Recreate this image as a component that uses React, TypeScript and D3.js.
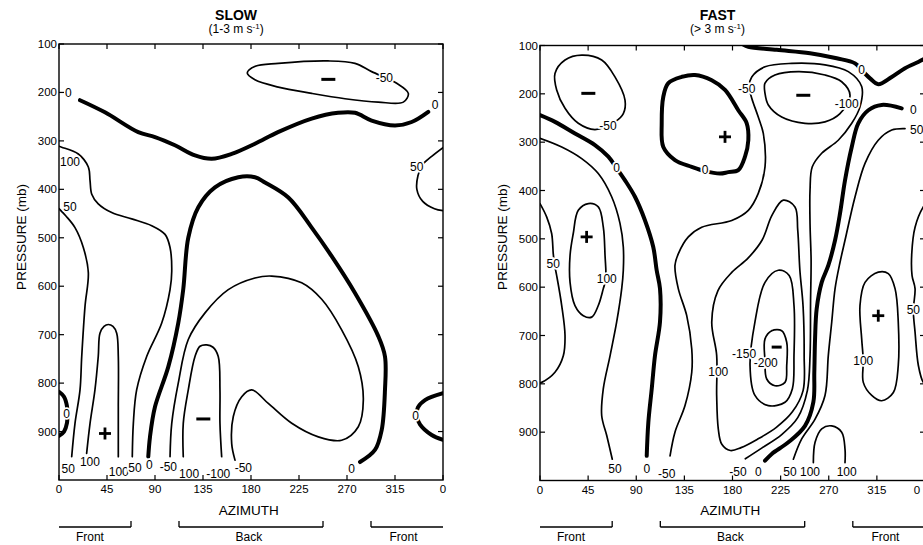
import React from 'react';
import * as d3 from 'd3';

type Pt = [number, number];
type Lbl = [number, number, string];
type Mk = [number, number, string];

// ---------- shared axis / annotation values ----------
const AZ_TICKS = [0, 45, 90, 135, 180, 225, 270, 315, 360];
const AZ_TICK_LABELS = ['0', '45', '90', '135', '180', '225', '270', '315', '0'];
const P_TICKS = [100, 200, 300, 400, 500, 600, 700, 800, 900];
const P_TICK_LABELS = ['100', '200', '300', '400', '500', '600', '700', '800', '900'];
const SECTOR_NAMES = ['Front', 'Back', 'Front'];
const SECTOR_FROM = [0, 112.5, 292.5];
const SECTOR_TO = [67.5, 247.5, 360];
const SECTOR_LABEL_AZ = [29, 178, 323];
const SECTOR_TICK_LEFT = [false, true, true];
const SECTOR_TICK_RIGHT = [true, true, false];

// ---------- SLOW panel (azimuth deg, pressure mb) ----------
const slowZeroTop: Pt[] = [[19.7, 216], [43.1, 241], [74.3, 282], [90, 292], [108.7, 309], [127.5, 330], [143.2, 337], [161.9, 327], [183.7, 306], [205.3, 282], [236.9, 254], [261.6, 242], [277.5, 242], [293.1, 258], [315, 268], [330.6, 261], [346.2, 240]];
const slowMinus50Top: Pt[] = [[176.5, 160], [184, 146], [205.6, 140], [252.2, 135], [277.5, 140], [293.1, 157], [316.6, 181], [327.5, 202], [322.8, 220], [299.3, 220], [268.1, 213], [236.9, 202], [205.6, 189], [183.7, 174]];
const slowZeroLoop: Pt[] = [[83.7, 952], [85.3, 911], [90, 849], [102.5, 766], [111.8, 676], [116.5, 606], [121.2, 500], [130.6, 437], [146.2, 396], [168.1, 375], [183.7, 375], [193.1, 386], [215, 417], [236.9, 479], [255.6, 538], [277.5, 614], [299.3, 703], [305.6, 745], [305.6, 814], [302.5, 897], [296.2, 938], [282.2, 963]];
const slowMinus50Loop: Pt[] = [[104.1, 952], [105.7, 883], [111.8, 800], [121.2, 710], [136.9, 655], [158.7, 607], [183.7, 583], [199.4, 579], [227.5, 593], [246.3, 627], [265, 690], [280.6, 766], [285.3, 835], [280.6, 890], [265, 918], [243.1, 911], [218.2, 883], [196.2, 842], [180.7, 814], [171.3, 828], [163.4, 869], [161.9, 925], [165, 959]];
const slow100Left: Pt[] = [[0, 311], [2.5, 313], [18.1, 327], [27.5, 354], [29.1, 382], [30.7, 410], [36.8, 430], [49.4, 448], [68.2, 461], [86.9, 475], [99.4, 493], [104.1, 520], [105.7, 569], [104.1, 607], [96.3, 676], [82.2, 745], [72.8, 814], [69.7, 883], [68.7, 952]];
const slow50Left: Pt[] = [[0, 440], [6.5, 455], [15, 479], [22.8, 520], [27.5, 572], [24.4, 641], [21.3, 745], [19.7, 814], [15, 883], [11.9, 952]];
const slow100Tongue: Pt[] = [[25.9, 945], [29.1, 883], [33.7, 814], [36.8, 745], [38.4, 697], [42.2, 683], [46.2, 679], [50.6, 683], [54.1, 697], [55.6, 745], [55.6, 849], [55.6, 952]];
const slowMinus100Tongue: Pt[] = [[116.5, 952], [116.5, 883], [121.2, 814], [127.5, 745], [132.2, 724], [138.5, 721], [144.4, 726], [149.3, 745], [150.9, 814], [150.9, 883], [152.5, 952]];
const slowZeroLeftArc: Pt[] = [[0, 818], [4.7, 828], [7.5, 848], [7.8, 865], [7.5, 882], [4.7, 900], [0, 909]];
const slowZeroRightArc: Pt[] = [[360, 821], [343.1, 835], [336.5, 850], [335.5, 868], [338.4, 885], [349.4, 907], [360, 917]];
const slow50Right: Pt[] = [[360, 314], [349.4, 332], [340.5, 350], [336.5, 372], [335.5, 400], [341, 425], [352, 440], [360, 444]];

const slowLabels: Lbl[] = [
  [8.7, 202, '0'], [352.5, 226, '0'], [305, 170, '-50'], [10.3, 344, '100'], [10.3, 437, '50'],
  [335.3, 354, '50'], [7.2, 863, '0'], [334.4, 868, '0'], [8.7, 977, '50'], [29, 963, '100'],
  [56, 983, '100'], [71.2, 975, '50'], [84.7, 970, '0'], [102.5, 973, '-50'], [122, 988, '100'],
  [149.3, 988, '-100'], [172.8, 975, '-50'], [274.4, 977, '0'],
];
const slowMarkers: Mk[] = [[43.1, 904, '+'], [135.3, 874, '-'], [252.5, 173, '-']];

// ---------- FAST panel ----------
const fastMinus50TopLeft: Pt[] = [[14, 158], [23.4, 130], [39, 120], [57.7, 130], [70.1, 165], [79.5, 213], [77.9, 241], [70.1, 258], [51.4, 274], [35.8, 261], [23.4, 230], [15.6, 192]];
const fastZeroLeft: Pt[] = [[0, 244], [14, 258], [32.7, 282], [51.4, 306], [63.9, 330], [71.7, 354], [79.5, 379], [88.8, 413], [98.2, 462], [105.9, 517], [109.1, 565], [112.2, 603], [112.2, 672], [107.5, 742], [104.5, 810], [101.3, 880], [99.8, 949]];
const fast50Left: Pt[] = [[0, 292], [20.3, 310], [39, 334], [54.5, 365], [67, 413], [74.8, 468], [77.9, 517], [77.9, 565], [76.4, 603], [71.7, 672], [65.5, 742], [59.2, 810], [57.7, 866], [62.4, 907], [67.6, 956]];
const fast100Plus: Pt[] = [[28.1, 590], [28.1, 534], [31.1, 489], [35.8, 441], [45.2, 427], [54.5, 434], [59.2, 476], [60.8, 534], [61.5, 583], [59.2, 603], [54.5, 638], [48.3, 662], [40.5, 659], [32.7, 638]];
const fast50EdgeLeft: Pt[] = [[0, 427], [6.3, 455], [10.9, 489], [12.4, 531], [13.5, 552], [15.6, 576], [20.3, 638], [23.4, 700], [21.8, 742], [14, 776], [1.6, 797], [0, 798]];
const fastZeroLoop: Pt[] = [[120, 178], [132.5, 165], [144.9, 161], [160.6, 172], [173, 192], [185.4, 234], [193.3, 261], [194.8, 296], [191.7, 330], [185.4, 358], [176.1, 362], [168.3, 365], [154.3, 360], [141.9, 351], [126.2, 337], [115.3, 310], [113.8, 261], [115.3, 206]];
const fastMinus50: Pt[] = [[121.6, 949], [126.2, 900], [135.6, 845], [141.9, 776], [141.9, 728], [137.2, 659], [129.3, 603], [126.2, 555], [129.3, 531], [138.7, 496], [151.2, 476], [179.3, 462], [194.8, 441], [204.1, 406], [210.4, 351], [208.8, 282], [204.1, 248], [198, 209], [195.5, 185], [198, 165], [210.4, 144], [235.4, 137], [266.5, 140], [288.3, 154], [300.8, 185], [299.2, 227], [291.5, 261], [278.9, 296], [263.4, 323], [254.6, 351], [252.5, 399], [252.5, 469], [253.5, 545], [253, 628], [252.5, 742], [250, 814], [241, 870], [226, 905], [208, 932], [192, 955]];
const fastMinus100Loop: Pt[] = [[227.5, 420], [238.4, 434], [241, 482], [243, 565], [246, 640], [247, 741], [246, 814], [236, 858], [221, 890], [203, 915], [188, 932], [178, 938], [170, 925], [166.7, 893], [165.2, 824], [165.2, 741], [160.6, 672], [166.4, 607], [179.5, 569], [194.5, 540], [207.6, 503], [217, 451]];
const fastMinus150: Pt[] = [[201, 672], [210.4, 590], [222.8, 565], [233, 576], [237.5, 638], [237.5, 741], [236, 810], [229.1, 838], [213.5, 845], [201, 824], [196.4, 762]];
const fastMinus200: Pt[] = [[210.4, 707], [216.7, 690], [226, 690], [230.7, 714], [230.7, 762], [229.1, 797], [219.7, 804], [212, 790], [210.4, 752]];
const fastMinus100Top: Pt[] = [[210.4, 178], [219.7, 161], [241.5, 154], [266.5, 161], [282.1, 175], [289.9, 203], [280.5, 241], [266.5, 258], [247.8, 261], [226, 248], [213.5, 223], [210.4, 199]];
const fastZeroTop: Pt[] = [[190, 98], [194.8, 102.5], [221.3, 109], [252.5, 116], [277.4, 126.5], [294.6, 137], [300.8, 151], [308.6, 168], [316.3, 180], [328.9, 165], [341.3, 147], [353.7, 134], [360, 127]];
const fastZeroRight: Pt[] = [[338.2, 230], [319.5, 223], [307, 234], [297.6, 261], [291.5, 310], [285.2, 379], [280.5, 448], [275.9, 503], [269.6, 555], [263.4, 590], [258.7, 645], [257.2, 707], [256.5, 776], [255.6, 838], [247.8, 887], [232.2, 921], [216.7, 945], [210.4, 959]];
const fast50Right: Pt[] = [[236.9, 956], [244.7, 914], [257.2, 873], [266.5, 824], [269.6, 741], [272.8, 672], [275.9, 603], [280.5, 549], [285.2, 503], [294.6, 413], [303.9, 344], [316.3, 296], [328.9, 275], [341.3, 272]];
const fast100Bump: Pt[] = [[255.6, 963], [257.2, 921], [263.4, 893], [272.8, 887], [282.1, 900], [285.2, 935], [285.2, 963]];
const fast100Plus2: Pt[] = [[316.3, 569], [303.9, 590], [299.2, 638], [300.8, 707], [302.3, 752], [302.3, 797], [310.2, 824], [319.5, 835], [330.4, 818], [335, 762], [335, 672], [332, 603], [325.7, 572]];
const fast50EdgeRight: Pt[] = [[360, 430], [358.4, 434], [350.7, 476], [347.6, 531], [347.9, 576], [350.7, 603], [349.1, 648], [350.7, 693], [353.8, 762], [358.4, 797], [360, 800]];

const fastLabels: Lbl[] = [
  [63.6, 267, '-50'], [71.7, 354, '0'], [99.8, 977, '0'], [70.1, 976, '50'], [62.4, 584, '100'],
  [12.4, 552, '50'], [154.3, 358, '0'], [193.3, 189, '-50'], [118.5, 987, '-50'], [166.7, 775, '100'],
  [190.8, 738, '-150'], [211.1, 756, '-200'], [286.8, 220, '-100'], [300.8, 151, '0'], [349.1, 234, '0'],
  [204.1, 983, '0'], [352.2, 275, '50'], [233.8, 983, '50'], [252.5, 983, '100'], [286.8, 983, '100'],
  [302.3, 752, '100'], [349.1, 648, '50'], [185.1, 982, '-50'],
];
const fastMarkers: Mk[] = [[45.2, 199, '-'], [43.6, 496, '+'], [173, 289, '+'], [246.2, 203, '-'], [221.3, 724, 's'], [316.3, 659, '+']];

// ---------- contour lists (thick = zero line) ----------
const slowContours = [
  { pts: slowZeroTop, thick: true, closed: false },
  { pts: slowMinus50Top, thick: false, closed: true },
  { pts: slowZeroLoop, thick: true, closed: false },
  { pts: slowMinus50Loop, thick: false, closed: false },
  { pts: slow100Left, thick: false, closed: false },
  { pts: slow50Left, thick: false, closed: false },
  { pts: slow100Tongue, thick: false, closed: false },
  { pts: slowMinus100Tongue, thick: false, closed: false },
  { pts: slowZeroLeftArc, thick: true, closed: false },
  { pts: slowZeroRightArc, thick: true, closed: false },
  { pts: slow50Right, thick: false, closed: false },
];
const fastContours = [
  { pts: fastMinus50TopLeft, thick: false, closed: true },
  { pts: fastZeroLeft, thick: true, closed: false },
  { pts: fast50Left, thick: false, closed: false },
  { pts: fast100Plus, thick: false, closed: true },
  { pts: fast50EdgeLeft, thick: false, closed: false },
  { pts: fastZeroLoop, thick: true, closed: true },
  { pts: fastMinus50, thick: false, closed: false },
  { pts: fastMinus100Loop, thick: false, closed: true },
  { pts: fastMinus150, thick: false, closed: true },
  { pts: fastMinus200, thick: false, closed: true },
  { pts: fastMinus100Top, thick: false, closed: true },
  { pts: fastZeroTop, thick: true, closed: false },
  { pts: fastZeroRight, thick: true, closed: false },
  { pts: fast50Right, thick: false, closed: false },
  { pts: fast100Bump, thick: false, closed: false },
  { pts: fast100Plus2, thick: false, closed: true },
  { pts: fast50EdgeRight, thick: false, closed: false },
];

const FONT = '"Liberation Sans", Arial, sans-serif';
const WIDTH = 923;
const HEIGHT = 545;

type PanelProps = {
  id: string;
  xr: [number, number];
  yr: [number, number];
  title: string;
  subPre: string;
  contours: { pts: Pt[]; thick: boolean; closed: boolean }[];
  labels: Lbl[];
  markers: Mk[];
};

function Panel({ id, xr, yr, title, subPre, contours, labels, markers }: PanelProps) {
  const x = d3.scaleLinear().domain([0, 360]).range(xr);
  const y = d3.scaleLinear().domain([100, 1000]).range(yr);
  const openLine = d3.line<Pt>().x((d) => x(d[0])).y((d) => y(d[1])).curve(d3.curveCatmullRom.alpha(0.5));
  const closedLine = d3.line<Pt>().x((d) => x(d[0])).y((d) => y(d[1])).curve(d3.curveCatmullRomClosed.alpha(0.5));
  const x0 = x(0), x1 = x(360), y0 = y(100), y1 = y(1000);
  const tl = 5;
  const brY = 527;
  return (
    <g>
      <defs>
        <clipPath id={id}>
          <rect x={x0} y={y0} width={x1 - x0} height={y1 - y0} />
        </clipPath>
      </defs>
      <g clipPath={`url(#${id})`}>
        {contours.map((c, i) => (
          <path key={i} d={(c.closed ? closedLine : openLine)(c.pts) || ''} fill="none" stroke="#000"
            strokeWidth={c.thick ? 4 : 1.7} strokeLinecap="round" strokeLinejoin="round" />
        ))}
      </g>
      {labels.map((l, i) => (
        <text key={i} x={x(l[0])} y={y(l[1])} textAnchor="middle" dominantBaseline="central"
          fontSize={12} fontFamily={FONT} fill="#000" stroke="#fff" strokeWidth={3.5}
          style={{ paintOrder: 'stroke' }}>{l[2]}</text>
      ))}
      {markers.map((m, i) => {
        const cx = x(m[0]), cy = y(m[1]);
        if (m[2] === '+') {
          return (
            <g key={i} stroke="#000" strokeWidth={2.8}>
              <line x1={cx - 6} x2={cx + 6} y1={cy} y2={cy} />
              <line x1={cx} x2={cx} y1={cy - 6} y2={cy + 6} />
            </g>
          );
        }
        const w = m[2] === 's' ? 5 : 7;
        return <line key={i} x1={cx - w} x2={cx + w} y1={cy} y2={cy} stroke="#000" strokeWidth={3} />;
      })}
      {/* frame */}
      <rect x={x0} y={y0} width={x1 - x0} height={y1 - y0} fill="none" stroke="#000" strokeWidth={1.4} />
      {AZ_TICKS.map((a, i) => (
        <g key={'xt' + i}>
          <line x1={x(a)} x2={x(a)} y1={y1} y2={y1 - tl} stroke="#000" strokeWidth={1.2} />
          <line x1={x(a)} x2={x(a)} y1={y0} y2={y0 + tl} stroke="#000" strokeWidth={1.2} />
          <text x={Math.min(x(a), WIDTH - 6)} y={y1 + 13} textAnchor="middle" fontSize={11.5} fontFamily={FONT} fill="#000">{AZ_TICK_LABELS[i]}</text>
        </g>
      ))}
      {P_TICKS.map((p, i) => (
        <g key={'yt' + i}>
          <line x1={x0} x2={x0 + tl} y1={y(p)} y2={y(p)} stroke="#000" strokeWidth={1.2} />
          <line x1={x1} x2={x1 - tl} y1={y(p)} y2={y(p)} stroke="#000" strokeWidth={1.2} />
          <text x={x0 - 2} y={y(p)} textAnchor="end" dominantBaseline="central" fontSize={11.5} fontFamily={FONT} fill="#000">{P_TICK_LABELS[i]}</text>
        </g>
      ))}
      {/* titles */}
      <text x={x(166)} y={20} textAnchor="middle" fontSize={14} fontWeight="bold" fontFamily={FONT} fill="#000">{title}</text>
      <text x={x(166)} y={33} textAnchor="middle" fontSize={12} fontFamily={FONT} fill="#000">
        {subPre}
        <tspan dy={-4} fontSize={8}>-1</tspan>
        <tspan dy={4}>)</tspan>
      </text>
      <text x={x(178)} y={515} textAnchor="middle" fontSize={13.5} fontFamily={FONT} fill="#000">AZIMUTH</text>
      <text transform={`translate(${x0 - 38},237) rotate(-90)`} textAnchor="middle" dominantBaseline="central"
        fontSize={13.5} fontFamily={FONT} fill="#000">PRESSURE (mb)</text>
      {/* sector brackets */}
      {SECTOR_NAMES.map((n, i) => {
        const a = x(SECTOR_FROM[i]), b = x(SECTOR_TO[i]);
        return (
          <g key={'s' + i} stroke="#000" strokeWidth={1.3}>
            <line x1={a} x2={b} y1={brY} y2={brY} />
            {SECTOR_TICK_LEFT[i] && <line x1={a} x2={a} y1={brY} y2={brY - 6} />}
            {SECTOR_TICK_RIGHT[i] && <line x1={b} x2={b} y1={brY} y2={brY - 6} />}
            <text x={x(SECTOR_LABEL_AZ[i])} y={541} textAnchor="middle" fontSize={12} fontFamily={FONT}
              fill="#000" stroke="none">{n}</text>
          </g>
        );
      })}
    </g>
  );
}

export default function App() {
  return (
    <svg width={WIDTH} height={HEIGHT} style={{ position: 'absolute', left: 0, top: 0, background: '#fff' }}>
      <rect x={0} y={0} width={WIDTH} height={HEIGHT} fill="#fff" />
      <Panel id="clipSlow" xr={[59, 443]} yr={[44, 480]} title="SLOW" subPre="(1-3 m s"
        contours={slowContours} labels={slowLabels} markers={slowMarkers} />
      <Panel id="clipFast" xr={[540, 925]} yr={[45.5, 480.5]} title="FAST" subPre="(> 3 m s"
        contours={fastContours} labels={fastLabels} markers={fastMarkers} />
    </svg>
  );
}
